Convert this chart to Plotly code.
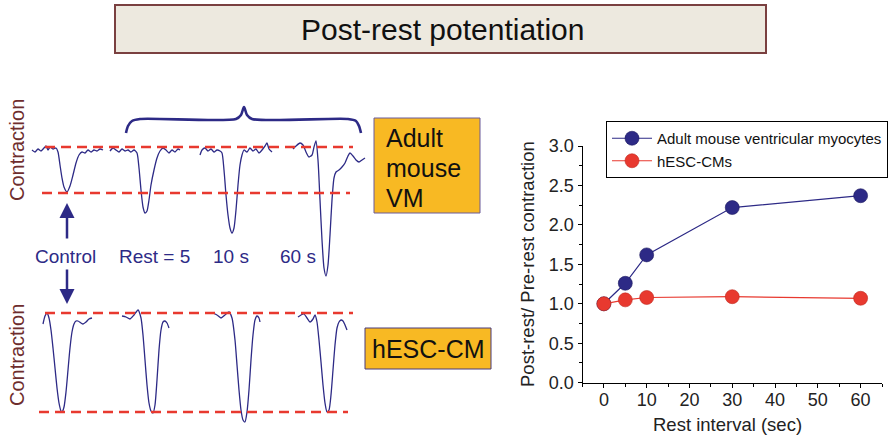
import plotly.graph_objects as go

FONT = "Liberation Sans, Arial, sans-serif"
NAVY = "#2d2a86"
RED = "#e8392f"

# ---------------- right chart data ----------------
rest_interval = [0, 5, 10, 30, 60]
adult_vm = [1.00, 1.26, 1.62, 2.22, 2.37]
adult_vm_err = [0.02, 0.03, 0.03, 0.07, 0.06]
hesc_cm = [1.00, 1.05, 1.08, 1.09, 1.07]
hesc_cm_err = [0.02, 0.02, 0.02, 0.02, 0.02]
x_ticks = [0, 10, 20, 30, 40, 50, 60]
y_ticks = [0.0, 0.5, 1.0, 1.5, 2.0, 2.5, 3.0]

# ---------------- left panel traces (panel units) ----------------
vm_control_x = [32, 35, 38, 41, 44, 46, 48, 50, 53, 56, 58, 60, 62, 64, 67, 70, 73, 76, 79, 82, 85, 88, 91, 94, 97, 100, 103]
vm_control_y = [150, 152, 149, 151, 148, 146, 150, 147, 149, 148, 152, 165, 178, 187, 192, 186, 175, 163, 155, 152, 153, 150, 152, 150, 151, 149, 150]
vm_rest5_x = [110, 113, 116, 119, 122, 125, 128, 131, 134, 137, 139, 141, 143, 145, 147, 149, 151, 154, 157, 160, 163, 166, 169, 172, 175, 178, 180]
vm_rest5_y = [151, 148, 150, 152, 149, 151, 150, 152, 150, 153, 168, 190, 207, 213, 211, 200, 185, 170, 158, 151, 148, 150, 153, 150, 152, 149, 150]
vm_rest10_x = [200, 202, 205, 208, 211, 214, 217, 220, 222, 224, 226, 228, 230, 232, 234, 236, 238, 240, 242, 244, 247, 250, 253, 256, 259, 262, 265, 267, 269, 272]
vm_rest10_y = [155, 150, 148, 151, 149, 152, 150, 151, 153, 170, 195, 215, 228, 233, 228, 210, 185, 165, 155, 150, 152, 148, 151, 149, 153, 150, 146, 143, 149, 152]
vm_rest60_x = [293, 296, 300, 303, 306, 309, 312, 314, 316, 318, 320, 322, 324, 326, 328, 330, 332, 334, 336, 339, 342, 345, 348, 350, 353, 356, 359, 362, 365]
vm_rest60_y = [149, 146, 143, 145, 152, 157, 155, 147, 141, 160, 200, 240, 268, 276, 265, 235, 200, 178, 172, 170, 167, 163, 156, 153, 156, 160, 162, 160, 158]

es_control_x = [43, 45, 47, 49, 51, 53, 55, 57, 59, 61, 62, 64, 66, 68, 70, 72, 74, 76, 78, 81, 83, 86, 89, 92]
es_control_y = [324, 316, 313, 318, 330, 348, 368, 388, 403, 411, 412, 407, 392, 370, 348, 332, 324, 321, 321, 323, 324, 322, 319, 318]
es_rest5_x = [122, 126, 130, 134, 138, 141, 143, 145, 147, 149, 151, 153, 155, 157, 159, 161, 163, 165, 167, 169]
es_rest5_y = [316, 317, 319, 315, 310, 318, 335, 360, 385, 403, 411, 413, 405, 380, 350, 330, 322, 321, 323, 328]
es_rest10_x = [213, 217, 221, 225, 229, 232, 235, 237, 239, 241, 243, 245, 247, 249, 251, 253, 255, 257, 259, 260]
es_rest10_y = [313, 315, 318, 315, 312, 318, 340, 365, 390, 410, 420, 422, 412, 390, 360, 335, 320, 316, 318, 322]
es_rest60_x = [298, 301, 304, 307, 310, 313, 315, 317, 319, 321, 323, 325, 327, 329, 331, 333, 335, 337, 339, 341, 343, 345, 347]
es_rest60_y = [317, 315, 314, 318, 322, 319, 315, 322, 340, 362, 385, 403, 412, 410, 395, 370, 345, 328, 322, 320, 321, 325, 330]

vm_top_ref_x, vm_top_ref_y = [45, 353], [147, 147]
vm_bot_ref_x, vm_bot_ref_y = [42, 350], [193, 193]
es_top_ref_x, es_top_ref_y = [45, 353], [313, 313]
es_bot_ref_x, es_bot_ref_y = [39, 348], [412, 412]

brace_x = [126, 128, 132, 140, 236, 241, 244, 247, 252, 348, 356, 359, 361]
brace_y = [133, 126, 121, 119, 119, 115, 107, 115, 119, 119, 121, 126, 133]

trace_labels = ["Control", "Rest = 5", "10 s", "60 s"]
trace_label_x = [65, 154, 231, 298]
vm_box_lines = ["Adult", "mouse", "VM"]
vm_box_line_y = [138, 168, 198]

fig = go.Figure()

L = dict(xaxis="x2", yaxis="y2", mode="lines", hoverinfo="skip", showlegend=False)
for xs, ys in [(vm_control_x, vm_control_y), (vm_rest5_x, vm_rest5_y),
               (vm_rest10_x, vm_rest10_y), (vm_rest60_x, vm_rest60_y),
               (es_control_x, es_control_y), (es_rest5_x, es_rest5_y),
               (es_rest10_x, es_rest10_y), (es_rest60_x, es_rest60_y)]:
    fig.add_trace(go.Scatter(x=xs, y=ys, line=dict(color=NAVY, width=1.3, shape="spline", smoothing=0.6), **L))

for xs, ys in [(vm_top_ref_x, vm_top_ref_y), (vm_bot_ref_x, vm_bot_ref_y),
               (es_top_ref_x, es_top_ref_y), (es_bot_ref_x, es_bot_ref_y)]:
    fig.add_trace(go.Scatter(x=xs, y=ys, line=dict(color=RED, width=2.4, dash="10px,6px"), **L))

fig.add_trace(go.Scatter(x=brace_x, y=brace_y, line=dict(color=NAVY, width=2.6, shape="spline", smoothing=0.8), **L))

# ---------------- right chart ----------------
fig.add_trace(go.Scatter(
    x=rest_interval, y=adult_vm, name="Adult mouse ventricular myocytes",
    mode="lines+markers", line=dict(color=NAVY, width=1.2),
    marker=dict(size=14, color=NAVY, line=dict(color="#1d1a60", width=0.6)),
    error_y=dict(type="data", array=adult_vm_err, color=NAVY, thickness=1, width=3),
    xaxis="x", yaxis="y"))
fig.add_trace(go.Scatter(
    x=rest_interval, y=hesc_cm, name="hESC-CMs",
    mode="lines+markers", line=dict(color=RED, width=1.2),
    marker=dict(size=14, color=RED, line=dict(color="#c0281f", width=0.6)),
    error_y=dict(type="data", array=hesc_cm_err, color=RED, thickness=1, width=3),
    xaxis="x", yaxis="y"))

W, H = 888, 436
ax_common = dict(showline=True, linecolor="black", linewidth=1, ticks="outside", ticklen=4,
                 tickcolor="black", showgrid=False, zeroline=False,
                 tickfont=dict(family=FONT, size=18, color="#222"))

annotations = []
A = dict(xref="x2", yref="y2", showarrow=False)
annotations.append(dict(x=443, y=29, text="Post-rest potentiation",
                        font=dict(family=FONT, size=30, color="#111"), **A))
for lx, lt in zip(trace_label_x, trace_labels):
    annotations.append(dict(x=lx, y=256, text=lt, font=dict(family=FONT, size=19, color=NAVY), **A))
annotations.append(dict(x=17, y=150, text="Contraction", textangle=-90,
                        font=dict(family=FONT, size=20, color="#6e2d2d"), **A))
annotations.append(dict(x=17, y=355, text="Contraction", textangle=-90,
                        font=dict(family=FONT, size=20, color="#6e2d2d"), **A))
for ly, lt in zip(vm_box_line_y, vm_box_lines):
    annotations.append(dict(x=384, y=ly, text=lt, xanchor="left",
                            font=dict(family=FONT, size=25, color="#111"), **A))
annotations.append(dict(x=428, y=349, text="hESC-CM",
                        font=dict(family=FONT, size=25, color="#111"), **A))
# axis titles of the right chart
annotations.append(dict(x=727, y=424, text="Rest interval (sec)",
                        font=dict(family=FONT, size=18.5, color="#222"), **A))
annotations.append(dict(x=527, y=264, text="Post-rest/ Pre-rest contraction", textangle=-90,
                        font=dict(family=FONT, size=18.5, color="#222"), **A))
# arrows
annotations.append(dict(x=67, y=203, ax=67, ay=240, xref="x2", yref="y2", axref="x2", ayref="y2",
                        showarrow=True, arrowhead=2, arrowsize=1.2, arrowwidth=2.5, arrowcolor=NAVY, text=""))
annotations.append(dict(x=67, y=304, ax=67, ay=268, xref="x2", yref="y2", axref="x2", ayref="y2",
                        showarrow=True, arrowhead=2, arrowsize=1.2, arrowwidth=2.5, arrowcolor=NAVY, text=""))

shapes = [
    dict(type="rect", xref="x2", yref="y2", x0=115, x1=766, y0=5, y1=53,
         fillcolor="#ede9df", line=dict(color="#7a4040", width=2), layer="below"),
    dict(type="rect", xref="x2", yref="y2", x0=374, x1=480, y0=118, y1=213,
         fillcolor="#f8b923", line=dict(color="#6a5a9a", width=1), layer="below"),
    dict(type="rect", xref="x2", yref="y2", x0=365, x1=491, y0=328, y1=369,
         fillcolor="#f8b923", line=dict(color="#4a3a7a", width=1), layer="below"),
]

fig.update_layout(
    width=W, height=H, margin=dict(l=0, r=0, t=0, b=0, pad=0, autoexpand=False),
    paper_bgcolor="white", plot_bgcolor="rgba(0,0,0,0)",
    font=dict(family=FONT),
    xaxis=dict(domain=[582.5 / W, 882 / W], range=[-5, 65], tickvals=x_ticks,
               minor=dict(dtick=5, tick0=0, ticks="outside", ticklen=3, tickcolor="black"),
               ticklabelstandoff=-3,
               anchor="y", automargin=False, **ax_common),
    yaxis=dict(domain=[1 - 382.7 / H, 1 - 146 / H], range=[0, 3], tickvals=y_ticks, tickformat=".1f",
               minor=dict(dtick=0.25, tick0=0, ticks="outside", ticklen=3, tickcolor="black"),
               anchor="x", automargin=False, **ax_common),
    xaxis2=dict(domain=[0, 1], range=[0, W], visible=False, anchor="y2"),
    yaxis2=dict(domain=[0, 1], range=[H, 0], visible=False, anchor="x2"),
    legend=dict(x=606 / W, y=1 - 121 / H, xanchor="left", yanchor="top",
                bordercolor="black", borderwidth=1, bgcolor="white",
                font=dict(family=FONT, size=15, color="#111"),
                tracegroupgap=0, itemwidth=40),
    shapes=shapes, annotations=annotations,
)

fig.write_html("out.html")
